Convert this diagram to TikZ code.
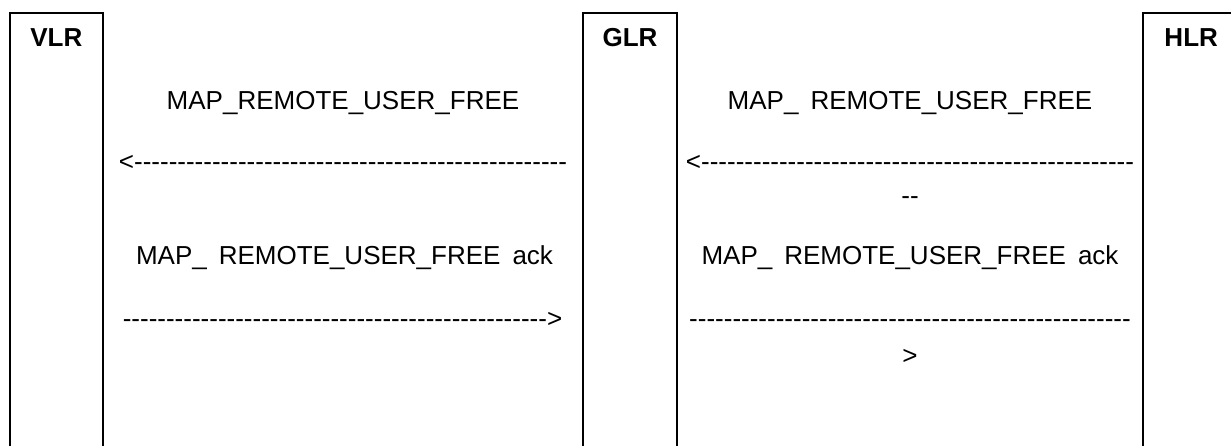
\documentclass[tikz,border=0pt]{standalone}
\usepackage{fontspec}
\setmainfont{Liberation Sans}[Ligatures=TeXOff]
\usetikzlibrary{positioning}

\newcommand{\dashrun}[1]{\foreach \k in {1,...,#1}{-}}

\begin{document}
\begin{tikzpicture}[
    x=1pt, y=-1pt,
    entity/.style={draw, line width=2pt, rectangle, anchor=north west, minimum height=480pt, inner sep=0pt, outer sep=0pt},
    title/.style={font=\fontsize{26}{29}\selectfont\bfseries, anchor=base, inner sep=0pt},
    msg/.style={font=\fontsize{26}{29}\selectfont, anchor=base, inner sep=0pt}
]
\clip (0,0) rectangle (1231,446);

% Entities
\node[entity, minimum width=92.7pt] (vlr) at (10,13.3) {};
\node[entity, minimum width=94pt] (glr) at (583,13.3) {};
\node[entity, minimum width=97pt] (hlr) at (1142.7,13.3) {};

\coordinate (titleline) at (0,47);
\node[title] (vlrname) at (vlr.north |- titleline) {VLR};
\node[title] (glrname) at (glr.north |- titleline) {GLR};
\node[title] (hlrname) at (hlr.north |- titleline) {HLR};

% VLR <-> GLR
\node[msg] (vg_req) at (343,109.5) {MAP\_REMOTE\_USER\_FREE};
\node[msg] (vg_req_arrow) at (343,171) {<\dashrun{50}};
\node[msg] (vg_ack) at (344.5,264.5) {MAP\_\hspace{12pt}REMOTE\_USER\_FREE\hspace{12pt}ack};
\node[msg] (vg_ack_arrow) at (342.5,327.5) {\dashrun{49}>};

% GLR <-> HLR
\node[msg] (gh_req) at (910,109.5) {MAP\_\hspace{12pt}REMOTE\_USER\_FREE};
\node[msg] (gh_req_arrow) at (910,171) {<\dashrun{50}};
\node[msg] (gh_req_wrap) at (910,205) {--};
\node[msg] (gh_ack) at (910,264.5) {MAP\_\hspace{12pt}REMOTE\_USER\_FREE\hspace{12pt}ack};
\node[msg] (gh_ack_arrow) at (910,327.5) {\dashrun{51}};
\node[msg] (gh_ack_wrap) at (910,364) {>};

\end{tikzpicture}
\end{document}
